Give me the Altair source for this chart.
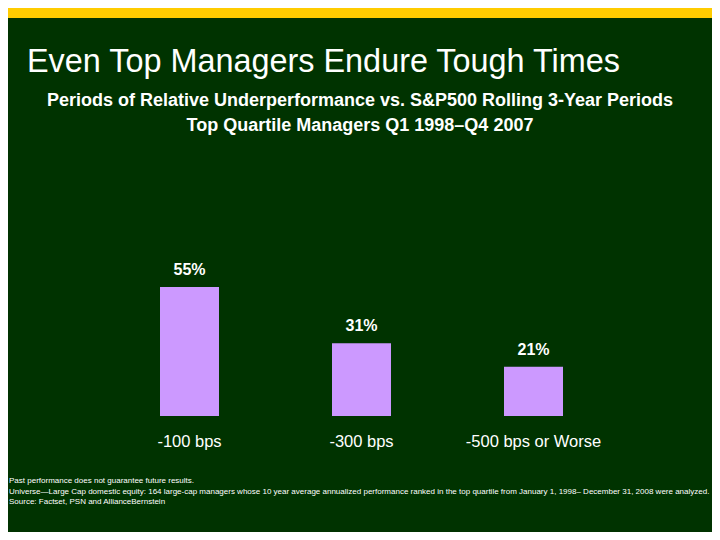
import altair as alt
import pandas as pd

categories = ["-100 bps", "-300 bps", "-500 bps or Worse"]
values = [55, 31, 21]
value_labels = ["55%", "31%", "21%"]

title_text = "Even Top Managers Endure Tough Times"
subtitle_lines = [
    "Periods of Relative Underperformance vs. S&P500 Rolling 3-Year Periods",
    "Top Quartile Managers Q1 1998\u2013Q4 2007",
]
footnote_lines = [
    "Past performance does not guarantee future results.",
    "Universe\u2014Large Cap domestic equity: 164 large-cap managers whose 10 year average annualized performance ranked in the top quartile from January 1, 1998\u2013 December 31, 2008 were analyzed.",
    "Source: Factset, PSN and AllianceBernstein",
]

W, H = 704, 524
BG = "#003300"
BAR = "#CC99FF"
YELLOW = "#FFCC00"
FONT = "Liberation Sans"

df = pd.DataFrame({"category": categories, "value": values, "label": value_labels})

xscale = alt.Scale(domain=categories, range=[152, 555], paddingInner=0.657, paddingOuter=0)
yscale = alt.Scale(domain=[0, 100], range=[408, 173.5])

base = alt.Chart(df)

bars = base.mark_bar(color=BAR).encode(
    x=alt.X("category:N", scale=xscale, axis=None, sort=categories),
    y=alt.Y("value:Q", scale=yscale, axis=None),
)

vlabels = base.mark_text(font=FONT, fontSize=16, fontWeight="bold", color="white",
                         baseline="middle", align="center", dy=-17).encode(
    x=alt.X("category:N", scale=xscale, axis=None, sort=categories),
    y=alt.Y("value:Q", scale=yscale, axis=None),
    text="label:N",
)

clabels = base.mark_text(font=FONT, fontSize=16.5, color="white",
                         baseline="middle", align="center").encode(
    x=alt.X("category:N", scale=xscale, axis=None, sort=categories),
    y=alt.value(434),
    text="category:N",
)

band = alt.Chart(pd.DataFrame({"a": [0]})).mark_rect(color=YELLOW).encode(
    x=alt.value(-10), x2=alt.value(W + 10), y=alt.value(-10), y2=alt.value(10)
)

title = alt.Chart(pd.DataFrame({"t": [title_text]})).mark_text(
    font=FONT, fontSize=32.4, color="white", align="left", baseline="middle"
).encode(x=alt.value(19), y=alt.value(54), text="t:N")

sub_df = pd.DataFrame({"t": subtitle_lines, "i": [0, 1]})
subs = alt.Chart(sub_df).mark_text(
    font=FONT, fontSize=18, fontWeight="bold", color="white", align="center", baseline="middle"
).encode(
    x=alt.value(352),
    y=alt.Y("i:Q", scale=alt.Scale(domain=[0, 1], range=[93, 118]), axis=None),
    text="t:N",
)

foot_df = pd.DataFrame({"t": footnote_lines, "i": [0, 1, 2]})
foots = alt.Chart(foot_df).mark_text(
    font=FONT, fontSize=8, color="white", align="left", baseline="middle"
).encode(
    x=alt.value(1),
    y=alt.Y("i:Q", scale=alt.Scale(domain=[0, 2], range=[473, 494]), axis=None),
    text="t:N",
)

chart = alt.layer(band, title, subs, bars, vlabels, clabels, foots).resolve_scale(
    y="independent"
).properties(
    width=W, height=H, background=BG, padding=0,
    autosize=alt.AutoSizeParams(type="none"),
).configure_view(stroke=None)

chart.save("out.html", embed_options={"renderer": "svg", "actions": False})
